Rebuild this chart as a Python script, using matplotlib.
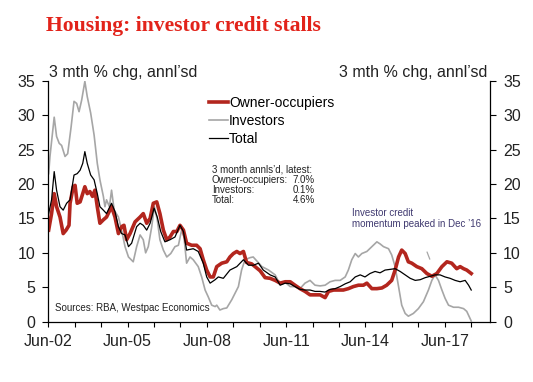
import matplotlib
matplotlib.use("Agg")
import matplotlib.pyplot as plt

plt.rcParams['font.family'] = ['Liberation Sans', 'DejaVu Sans']

# decimal-year dates and values (3 mth % chg, annualised)
owner_t = [2002.43, 2002.54, 2002.64, 2002.73, 2002.86, 2002.98, 2003.09, 2003.20, 2003.24, 2003.36,
           2003.43, 2003.51, 2003.62, 2003.72, 2003.80, 2003.89, 2003.99, 2004.09, 2004.18, 2004.27,
           2004.37, 2004.50, 2004.62, 2004.81, 2004.94, 2005.07, 2005.19, 2005.28, 2005.38, 2005.51,
           2005.70, 2005.89, 2006.01, 2006.14, 2006.27, 2006.39, 2006.52, 2006.64, 2006.77, 2006.90,
           2007.02, 2007.15, 2007.28, 2007.40, 2007.53, 2007.65, 2007.84, 2008.03, 2008.16, 2008.28,
           2008.41, 2008.54, 2008.66, 2008.79, 2008.98, 2009.17, 2009.29, 2009.42, 2009.55, 2009.67,
           2009.80, 2009.92, 2010.11, 2010.24, 2010.43, 2010.62, 2010.81, 2011.00, 2011.19, 2011.38,
           2011.57, 2011.75, 2011.94, 2012.13, 2012.32, 2012.51, 2012.70, 2012.89, 2013.02, 2013.21,
           2013.39, 2013.58, 2013.77, 2013.96, 2014.15, 2014.34, 2014.47, 2014.66, 2014.85, 2015.04,
           2015.22, 2015.41, 2015.54, 2015.67, 2015.79, 2015.92, 2016.04, 2016.17, 2016.36, 2016.55,
           2016.74, 2016.93, 2017.12, 2017.31, 2017.50, 2017.68, 2017.87, 2018.00, 2018.13, 2018.25,
           2018.42]
owner_v = [13.3, 15.7, 18.6, 16.7, 15.2, 12.8, 13.3, 14.0, 17.2, 19.6,
           19.8, 17.2, 17.4, 18.6, 19.6, 18.6, 18.9, 18.2, 19.1, 16.7,
           14.3, 14.8, 15.2, 16.7, 15.2, 12.8, 13.8, 14.0, 11.9, 12.8,
           14.5, 15.2, 15.7, 14.3, 15.0, 17.2, 17.4, 15.7, 13.3, 11.9,
           12.3, 13.1, 13.1, 14.0, 13.3, 11.4, 11.1, 11.1, 10.6, 9.0,
           7.5, 6.5, 6.5, 8.0, 8.5, 8.7, 9.4, 9.9, 10.2, 9.9,
           10.2, 8.6, 8.4, 8.0, 7.4, 6.4, 6.3, 6.0, 5.6, 5.8,
           5.8, 5.3, 4.8, 4.4, 3.9, 3.9, 3.9, 3.5, 4.4, 4.6,
           4.6, 4.6, 4.8, 5.1, 5.3, 5.3, 5.6, 4.8, 4.8, 4.9,
           5.3, 6.0, 7.5, 9.4, 10.4, 9.9, 8.7, 8.5, 8.0, 7.7,
           7.0, 6.6, 7.0, 8.0, 8.7, 8.5, 7.7, 8.0, 7.7, 7.5,
           7.0]

inv_t = [2002.43, 2002.48, 2002.64, 2002.73, 2002.83, 2002.92, 2003.05, 2003.15, 2003.28, 2003.39,
         2003.49, 2003.58, 2003.68, 2003.80, 2003.89, 2004.02, 2004.15, 2004.27, 2004.37, 2004.50,
         2004.56, 2004.62, 2004.73, 2004.81, 2004.91, 2005.07, 2005.19, 2005.32, 2005.45, 2005.63,
         2005.76, 2005.89, 2006.01, 2006.10, 2006.20, 2006.33, 2006.43, 2006.54, 2006.64, 2006.77,
         2006.90, 2007.05, 2007.21, 2007.34, 2007.46, 2007.55, 2007.65, 2007.78, 2007.90, 2008.09,
         2008.22, 2008.35, 2008.47, 2008.60, 2008.73, 2008.79, 2008.91, 2009.04, 2009.17, 2009.36,
         2009.61, 2009.73, 2009.86, 2010.05, 2010.17, 2010.50, 2010.75, 2011.00, 2011.19, 2011.38,
         2011.57, 2011.75, 2011.94, 2012.13, 2012.32, 2012.51, 2012.70, 2012.89, 2013.08, 2013.27,
         2013.46, 2013.65, 2013.77, 2013.90, 2014.03, 2014.15, 2014.28, 2014.47, 2014.66, 2014.85,
         2014.97, 2015.10, 2015.29, 2015.41, 2015.54, 2015.67, 2015.79, 2015.92, 2016.04, 2016.23,
         2016.42, 2016.61, 2016.80, 2016.93, 2017.05, 2017.18, 2017.31, 2017.43, 2017.56, 2017.75,
         2017.94, 2018.13, 2018.25, 2018.42]
inv_v = [21.5, 24.0, 29.7, 26.9, 25.9, 25.6, 24.0, 24.4, 28.3, 32.0,
         31.7, 30.5, 32.2, 34.9, 32.7, 30.3, 27.1, 23.0, 20.6, 18.2,
         16.7, 17.7, 16.7, 19.1, 16.2, 15.2, 13.3, 10.9, 9.4, 8.7,
         10.9, 12.6, 11.9, 10.0, 10.9, 13.8, 16.7, 14.8, 11.9, 10.4,
         9.4, 9.9, 10.9, 11.1, 13.3, 12.3, 8.5, 9.4, 9.0, 8.0,
         6.5, 4.6, 3.6, 2.4, 2.2, 2.4, 1.7, 1.9, 2.0, 3.2,
         5.1, 7.5, 9.0, 9.3, 9.4, 8.0, 7.5, 6.8, 5.4, 5.7,
         5.1, 5.1, 4.8, 5.6, 6.0, 5.3, 5.2, 5.3, 5.8, 6.0,
         6.0, 6.5, 7.5, 9.0, 9.9, 9.4, 9.9, 10.2, 10.9, 11.6,
         11.3, 10.9, 10.6, 9.7, 8.0, 5.1, 2.4, 1.2, 0.8, 1.2,
         1.9, 2.9, 4.6, 6.0, 6.8, 6.0, 4.6, 3.4, 2.4, 2.1,
         2.1, 1.9, 1.5, 0.1]

tot_t = [2002.43, 2002.54, 2002.64, 2002.73, 2002.86, 2002.98, 2003.11, 2003.24, 2003.39, 2003.51,
         2003.62, 2003.72, 2003.80, 2003.89, 2004.02, 2004.15, 2004.27, 2004.37, 2004.50, 2004.62,
         2004.81, 2004.94, 2005.07, 2005.19, 2005.32, 2005.45, 2005.57, 2005.76, 2005.89, 2006.01,
         2006.14, 2006.27, 2006.42, 2006.54, 2006.67, 2006.83, 2007.02, 2007.21, 2007.40, 2007.53,
         2007.65, 2007.90, 2008.09, 2008.28, 2008.41, 2008.54, 2008.73, 2008.85, 2009.04, 2009.29,
         2009.55, 2009.80, 2009.99, 2010.18, 2010.37, 2010.55, 2010.81, 2011.00, 2011.19, 2011.38,
         2011.57, 2011.75, 2011.94, 2012.13, 2012.32, 2012.51, 2012.70, 2012.89, 2013.08, 2013.27,
         2013.46, 2013.65, 2013.84, 2014.03, 2014.22, 2014.40, 2014.59, 2014.78, 2014.97, 2015.16,
         2015.35, 2015.54, 2015.73, 2015.92, 2016.11, 2016.30, 2016.49, 2016.68, 2016.87, 2017.05,
         2017.24, 2017.43, 2017.62, 2017.81, 2018.00, 2018.19, 2018.32, 2018.42]
tot_v = [15.7, 17.7, 21.8, 19.1, 16.7, 16.2, 17.2, 17.7, 21.3, 21.5,
         22.0, 23.0, 24.7, 23.0, 21.3, 20.6, 18.6, 16.7, 16.2, 15.7,
         17.2, 16.0, 13.8, 12.8, 12.6, 10.9, 11.4, 13.8, 14.3, 14.0,
         13.3, 14.3, 16.5, 15.2, 13.1, 11.6, 11.9, 12.3, 14.0, 13.1,
         10.4, 10.6, 10.2, 8.5, 6.5, 5.6, 6.1, 6.5, 6.3, 7.5,
         8.0, 9.0, 8.2, 8.2, 8.5, 7.5, 6.8, 6.5, 5.3, 5.6,
         5.5, 5.1, 4.7, 4.6, 4.6, 4.4, 4.4, 4.3, 4.7, 4.8,
         5.1, 5.5, 5.8, 6.5, 6.8, 6.5, 7.0, 7.3, 7.1, 7.5,
         7.6, 7.7, 7.3, 6.8, 6.3, 6.0, 6.1, 6.4, 6.6, 6.8,
         6.8, 6.5, 6.3, 6.0, 5.8, 6.0, 5.3, 4.6]

tick_years = list(range(2002, 2019))
stat_labels = ["Owner-occupiers:", "Investors:", "Total:"]
stat_values = ["7.0%", "0.1%", "4.6%"]

W, H = 533, 382
fig = plt.figure(figsize=(W / 100, H / 100), dpi=100)
ax = fig.add_axes([48.3 / W, 1 - 321.7 / H, 441.7 / W, 241 / H])

text_col = '#222222'
l_inv, = ax.plot(inv_t, inv_v, color='#A6A6A6', lw=1.2)
l_own, = ax.plot(owner_t, owner_v, color='#B3261E', lw=2.6)
l_tot, = ax.plot(tot_t, tot_v, color='black', lw=0.9)

ax.set_xlim(2002.417, 2019.13)
ax.set_ylim(0, 35)
ax.set_yticks(range(0, 36, 5))
ax.yaxis.set_ticks_position('both')
ax.tick_params(axis='y', which='both', direction='out', length=4, width=0.8,
               labelleft=True, labelright=True, labelsize=11.5, labelcolor=text_col, pad=5.5)
ax.set_xticks([y + 5 / 12 for y in tick_years])
ax.set_xticklabels(["Jun-%02d" % (y % 100) if (y - 2002) % 3 == 0 else "" for y in tick_years])
ax.tick_params(axis='x', direction='out', length=3.5, width=0.8, labelsize=11.5,
               labelcolor=text_col, pad=5)
ax.spines['top'].set_visible(False)
for s in ['left', 'right', 'bottom']:
    ax.spines[s].set_linewidth(0.9)

fig.text(46 / W, 1 - 31.5 / H, "Housing: investor credit stalls", family='Liberation Serif',
         weight='bold', fontsize=15.6, color='#E2231A', va='baseline')
fig.text(49 / W, 1 - 77 / H, "3 mth % chg, annl\u2019sd", fontsize=11.5, color=text_col, va='baseline')
fig.text(487 / W, 1 - 77 / H, "3 mth % chg, annl\u2019sd", fontsize=11.5, color=text_col,
         va='baseline', ha='right')

ax.legend([l_own, l_inv, l_tot], ["Owner-occupiers", "Investors", "Total"],
          loc='upper left', bbox_to_anchor=(209 / W, 1 - 96 / H), bbox_transform=fig.transFigure,
          frameon=False, fontsize=10, handlelength=1.35, handletextpad=0.1,
          labelspacing=0.3, borderpad=0, borderaxespad=0)

fig.text(212 / W, 1 - 169.3 / H, "3 month annls\u2019d, latest:", fontsize=7, color=text_col, va='center')
for i, (lab, val) in enumerate(zip(stat_labels, stat_values)):
    yy = 1 - (180 + 10 * i) / H
    fig.text(212 / W, yy, lab, fontsize=7, color=text_col, va='center')
    fig.text(315 / W, yy, val, fontsize=7, color=text_col, va='center', ha='right')

fig.text(352 / W, 1 - 213.3 / H, "Investor credit", fontsize=7, color='#403A70', va='center')
fig.text(352 / W, 1 - 224 / H, "momentum peaked in Dec \u201916", fontsize=7, color='#403A70', va='center')
ax.annotate("", xy=(2016.89, 8.7), xytext=(2016.71, 10.5),
            arrowprops=dict(arrowstyle='-', color='#A6A6A6', lw=0.9))

fig.text(55 / W, 1 - 308.3 / H, "Sources: RBA, Westpac Economics", fontsize=7, color=text_col, va='center')

fig.savefig("out.png", dpi=100)
